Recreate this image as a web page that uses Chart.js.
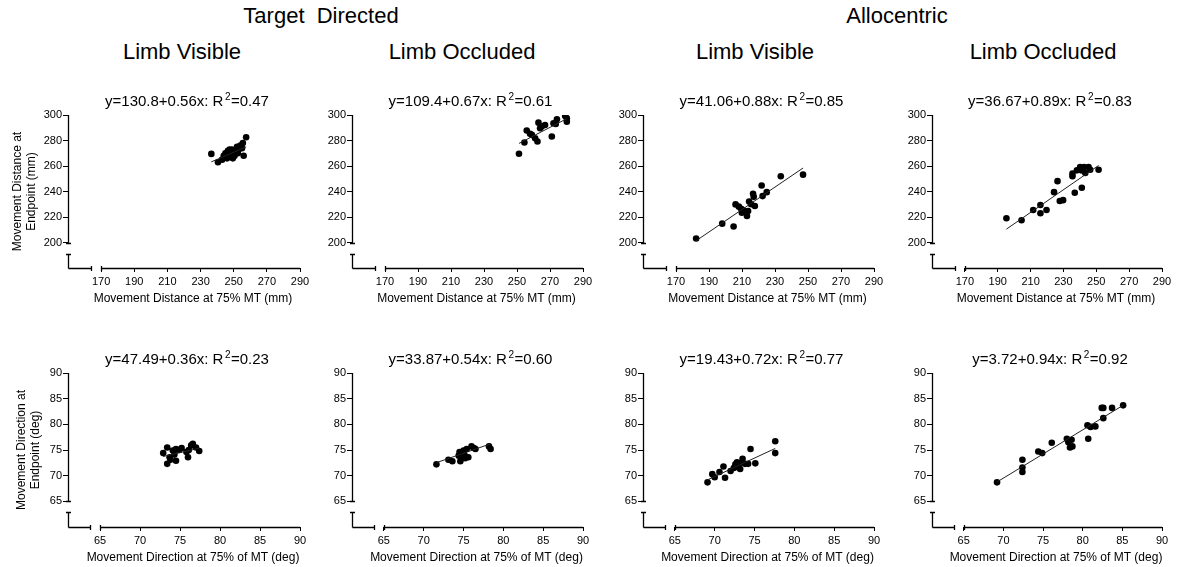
<!DOCTYPE html>
<html>
<head>
<meta charset="utf-8">
<script src="https://cdn.jsdelivr.net/npm/chart.js@4.4.1/dist/chart.umd.min.js"></script>
<style>
  body { margin: 0; background: #fff; width: 1183px; height: 567px; overflow: hidden; position: relative;
         font-family: "Liberation Sans", Arial, sans-serif; }
  .hd { position: absolute; width: 300px; text-align: center; font-size: 22px; line-height: 22px;
        white-space: pre; color: #000; }
</style>
</head>
<body>
<div class="hd" style="left:171px;top:5px">Target  Directed</div>
<div class="hd" style="left:747px;top:5px">Allocentric</div>
<div class="hd" style="left:32px;top:41px">Limb Visible</div>
<div class="hd" style="left:312px;top:41px">Limb Occluded</div>
<div class="hd" style="left:605px;top:41px">Limb Visible</div>
<div class="hd" style="left:893px;top:41px">Limb Occluded</div>
<script>
// tick labels
const distTicks = [170, 190, 210, 230, 250, 270, 290];
const distTicksY = [200, 220, 240, 260, 280, 300];
const dirTicks = [65, 70, 75, 80, 85, 90];

// movement distance (mm): 75% MT vs endpoint
const tvDistX = [236.5, 240.5, 243, 244, 245, 246, 246.5, 247, 247.5, 248, 248.5, 249, 249.5, 250, 250.5, 251, 252, 252.5, 253, 254, 255, 255.5, 256, 257.5];
const tvDistY = [269.5, 263, 265, 268, 270, 266, 272, 269, 273, 271, 267, 273, 266, 270, 268, 272, 275, 270, 273, 276, 274, 278, 268, 282.5];
const toDistX = [251.2, 254.5, 255.9, 257.9, 259, 261, 262.4, 263, 264, 265, 267, 271.1, 272.1, 273.5, 274.2, 279.2, 280.2, 280.2];
const toDistY = [269.6, 278.4, 287.8, 285.2, 284.4, 281.8, 279.2, 294, 289.6, 291, 292.2, 283.1, 293.5, 293, 296.6, 299.2, 294.8, 297.4];
const avDistX = [182.2, 198, 204.9, 206.1, 208.1, 209.5, 210.9, 213, 213.7, 214.3, 216.7, 217.1, 217.8, 221.9, 222.5, 225, 233.5, 247, 209.9, 215.5];
const avDistY = [203.1, 214.8, 212.5, 229.9, 228.1, 226.5, 225.2, 220.8, 224.7, 232.2, 238.2, 235.8, 228.6, 244.7, 236.4, 239.5, 252, 253.2, 223.4, 230];
const aoDistX = [195.3, 204.5, 211.6, 216, 216, 219.7, 224.3, 226.4, 227.8, 229.8, 235.5, 235.5, 236.9, 238.2, 240.2, 240.8, 241.2, 242.6, 243.3, 245.3, 246.3, 251.4];
const aoDistY = [219, 217.4, 225.5, 229.4, 222.9, 225.5, 239.5, 248.1, 232.5, 233.2, 252, 254, 239, 256.6, 259.2, 256.6, 243, 259.2, 254.5, 259.2, 257.1, 257.1];

// movement direction (deg): 75% of MT vs endpoint
const tvDirX = [72.9, 73.4, 73.4, 73.7, 74.1, 74.5, 74.5, 74.3, 75.2, 75.8, 76.0, 76.4, 76.6, 77.0, 77.4, 76.1, 73.8, 74.9];
const tvDirY = [74.4, 75.5, 72.3, 73.6, 74.9, 75.2, 72.9, 74.1, 75.4, 74.6, 73.6, 75.9, 76.2, 75.5, 74.8, 75.0, 73.1, 75.0];
const toDirX = [71.6, 73.1, 73.6, 74.4, 74.6, 74.8, 75.0, 75.2, 75.4, 75.6, 76.0, 76.3, 76.5, 78.2, 78.4, 74.5, 75.1, 74.7];
const toDirY = [72.2, 73.1, 72.8, 73.9, 72.8, 74.2, 74.9, 73.4, 75.2, 73.6, 75.7, 75.4, 75.2, 75.7, 75.2, 74.6, 74.1, 73.6];
const avDirX = [69.1, 69.7, 70.0, 70.6, 71.1, 71.3, 72.0, 72.4, 72.8, 73.0, 73.2, 73.5, 73.8, 74.2, 74.5, 75.1, 77.6, 77.6, 72.6, 73.1];
const avDirY = [68.7, 70.3, 69.7, 70.7, 71.8, 69.6, 70.9, 71.5, 72.6, 71.6, 71.3, 73.3, 72.3, 72.3, 75.2, 72.4, 76.7, 74.4, 72.2, 72.4];
const aoDirX = [69.2, 72.4, 72.4, 72.4, 74.4, 74.9, 76.1, 78.0, 78.2, 78.4, 78.7, 80.6, 80.7, 81.0, 81.6, 82.4, 82.6, 82.6, 83.7, 85.1, 78.6];
const aoDirY = [68.7, 73.1, 71.6, 70.7, 74.7, 74.4, 76.4, 77.2, 76.5, 75.5, 75.7, 79.8, 77.2, 79.5, 79.6, 83.2, 83.2, 81.2, 83.2, 83.7, 77.0];

// fits, panel order: TV, TO, AV, AO (distance) then the same for direction
const intercepts = [130.8, 109.4, 41.06, 36.67, 47.49, 33.87, 19.43, 3.72];
const slopes = [0.56, 0.67, 0.88, 0.89, 0.36, 0.54, 0.72, 0.94];
const rSquared = [0.47, 0.61, 0.85, 0.83, 0.23, 0.60, 0.77, 0.92];

const xsAll = [tvDistX, toDistX, avDistX, aoDistX, tvDirX, toDirX, avDirX, aoDirX];
const ysAll = [tvDistY, toDistY, avDistY, aoDistY, tvDirY, toDirY, avDirY, aoDirY];

const kinds = {
  dist: { xMin: 150, xMax: 290, yMin: 180, yMax: 300, xTicks: distTicks, yTicks: distTicksY,
          xBreak: 164, xStart: 170, yBreak: 191, yStart: 200,
          xTitle: 'Movement Distance at 75% MT (mm)', yTitle: ['Movement Distance at', 'Endpoint (mm)'] },
  dir:  { xMin: 61, xMax: 90, yMin: 60, yMax: 90, xTicks: dirTicks, yTicks: dirTicks,
          xBreak: 63.8, xStart: 65, yBreak: 63, yStart: 65,
          xTitle: 'Movement Direction at 75% of MT (deg)', yTitle: ['Movement Direction at', 'Endpoint (deg)'] }
};

const FONT = '"Liberation Sans", Arial, sans-serif';
const colLeft = [68, 352, 643, 932];
const colWidth = [232, 231, 231, 230];
const rowTop = [115, 373];
const rowHeight = [153, 154];
const padT = 40, padB = 45, padR = 14;

// broken axes + equation + x title
const brokenAxes = {
  id: 'brokenAxes',
  afterDraw(chart, args, o) {
    const { ctx, chartArea: a, scales: { x, y } } = chart;
    const L = Math.round(a.left) + 0.5, B = Math.round(a.bottom) + 0.5;
    const seg = (x1, y1, x2, y2) => { ctx.moveTo(x1, y1); ctx.lineTo(x2, y2); };
    ctx.save();
    ctx.strokeStyle = '#000';
    ctx.lineWidth = 1.3;
    ctx.beginPath();
    const ys = Math.round(y.getPixelForValue(o.yStart)) + 0.5;
    const yb = Math.round(y.getPixelForValue(o.yBreak)) + 0.5;
    const xb = Math.round(x.getPixelForValue(o.xBreak)) + 0.5;
    const xs = Math.round(x.getPixelForValue(o.xStart)) + 0.5;
    seg(L, a.top, L, ys);
    seg(L - 2.5, ys, L + 2.5, ys);
    seg(L - 2.5, yb, L + 2.5, yb);
    seg(L, yb, L, B);
    seg(L, B, xb, B);
    seg(xb, B - 2.5, xb, B + 2.5);
    seg(xs, B - 2.5, xs, B + 2.5);
    seg(xs, B, a.right, B);
    ctx.stroke();

    // equation title with superscript 2
    const cx = (a.left + a.right) / 2 + 3;
    const base = a.top - 9.5;
    const p1 = 'y=' + o.a + '+' + o.b.toFixed(2) + 'x: R';
    const p3 = '=' + o.r2.toFixed(2);
    ctx.fillStyle = '#000';
    ctx.textBaseline = 'alphabetic';
    ctx.textAlign = 'left';
    ctx.font = '15px ' + FONT;
    const w1 = ctx.measureText(p1).width, w3 = ctx.measureText(p3).width;
    ctx.font = '10px ' + FONT;
    const w2 = ctx.measureText('2').width + 2;
    let sx = cx - (w1 + w2 + w3) / 2;
    ctx.font = '15px ' + FONT;
    ctx.fillText(p1, sx, base);
    ctx.font = '10px ' + FONT;
    ctx.fillText('2', sx + w1 + 1.5, base - 5.5);
    ctx.font = '15px ' + FONT;
    ctx.fillText(p3, sx + w1 + w2, base);

    // x axis title
    ctx.font = '12px ' + FONT;
    ctx.textAlign = 'center';
    ctx.fillText(o.xTitle, (a.left + a.right) / 2 + 9, a.bottom + 34);
    ctx.restore();
  }
};

xsAll.forEach((xs, i) => {
  const ys = ysAll[i];
  const col = i % 4, row = Math.floor(i / 4);
  const k = row === 0 ? kinds.dist : kinds.dir;
  const yW = col === 0 ? 68 : 50;
  const W = yW + colWidth[col] + padR, H = padT + rowHeight[row] + padB;
  const cv = document.createElement('canvas');
  cv.width = W; cv.height = H;
  cv.style.cssText = `position:absolute;left:${colLeft[col] - yW}px;top:${rowTop[row] - padT}px;width:${W}px;height:${H}px`;
  document.body.appendChild(cv);

  const pts = xs.map((v, j) => ({ x: v, y: ys[j] }));
  const x0 = Math.min(...xs), x1 = Math.max(...xs);
  const fit = [x0, x1].map(v => ({ x: v, y: intercepts[i] + slopes[i] * v }));

  new Chart(cv, {
    type: 'scatter',
    data: {
      datasets: [
        { data: fit, showLine: true, borderColor: '#222', borderWidth: 1, pointRadius: 0 },
        { data: pts, backgroundColor: '#000', borderWidth: 0, pointRadius: 3.3 }
      ]
    },
    options: {
      responsive: false,
      animation: false,
      layout: { padding: { top: padT, right: padR, left: 0, bottom: 0 } },
      plugins: {
        legend: { display: false },
        tooltip: { enabled: false },
        brokenAxes: { xBreak: k.xBreak, xStart: k.xStart, yBreak: k.yBreak, yStart: k.yStart,
                      xTitle: k.xTitle, a: intercepts[i], b: slopes[i], r2: rSquared[i] }
      },
      scales: {
        x: {
          type: 'linear', min: k.xMin, max: k.xMax,
          afterBuildTicks: s => { s.ticks = k.xTicks.map(v => ({ value: v })); },
          afterFit: s => { s.height = padB; },
          grid: { display: true, drawOnChartArea: false, drawTicks: true, tickLength: 4, color: '#000' },
          border: { display: false },
          ticks: { color: '#000', font: { size: 11, family: FONT }, padding: 3, maxRotation: 0, autoSkip: false }
        },
        y: {
          type: 'linear', min: k.yMin, max: k.yMax,
          afterBuildTicks: s => { s.ticks = k.yTicks.map(v => ({ value: v })); },
          afterFit: s => { s.width = yW; },
          grid: { display: true, drawOnChartArea: false, drawTicks: true, tickLength: 5, color: '#000' },
          border: { display: false },
          ticks: { color: '#000', font: { size: 11, family: FONT }, padding: 1 },
          title: { display: col === 0, text: k.yTitle, color: '#000',
                   font: { size: 12, family: FONT, lineHeight: 1.15 },
                   padding: { top: row === 0 ? 11 : 15, bottom: 0 } }
        }
      }
    },
    plugins: [brokenAxes]
  });
});
</script>
</body>
</html>
